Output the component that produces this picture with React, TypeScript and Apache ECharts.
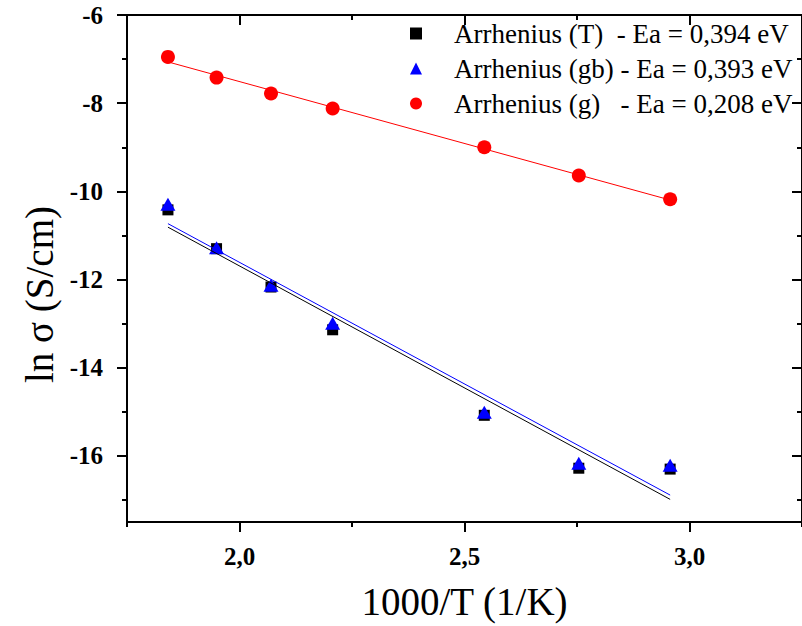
import React, { useEffect, useRef } from "react";
import * as echarts from "echarts";

const invT = [1.841, 1.949, 2.07, 2.207, 2.544, 2.754, 2.957];
const lnSigmaT = [-10.42, -11.3, -12.17, -13.14, -15.08, -16.28, -16.3];
const lnSigmaGb = [-10.29, -11.28, -12.13, -12.99, -15.01, -16.17, -16.21];
const lnSigmaG = [-6.95, -7.42, -7.78, -8.12, -9.0, -9.64, -10.18];

const nameT = "Arrhenius (T)  - Ea = 0,394 eV";
const nameGb = "Arrhenius (gb) - Ea = 0,393 eV";
const nameG = "Arrhenius (g)   - Ea = 0,208 eV";

const xMajorTicks = [2.0, 2.5, 3.0];
const xMinorTicks = [1.75, 2.25, 2.75, 3.25];
const yMajorTicks = [-16, -14, -12, -10, -8, -6];
const yMinorTicks = [-17, -15, -13, -11, -9, -7];

const X_MIN = 1.75;
const X_MAX = 3.25;
const Y_MIN = -17.5;
const Y_MAX = -6;

const FONT = "Liberation Serif";

function linearFit(xs: number[], ys: number[]): [number, number][] {
  const n = xs.length;
  const mx = xs.reduce((a, b) => a + b, 0) / n;
  const my = ys.reduce((a, b) => a + b, 0) / n;
  let sxy = 0;
  let sxx = 0;
  for (let i = 0; i < n; i++) {
    sxy += (xs[i] - mx) * (ys[i] - my);
    sxx += (xs[i] - mx) * (xs[i] - mx);
  }
  const b = sxy / sxx;
  const a = my - b * mx;
  const x0 = Math.min(...xs);
  const x1 = Math.max(...xs);
  return [
    [x0, a + b * x0],
    [x1, a + b * x1],
  ];
}

const pairs = (xs: number[], ys: number[]) => xs.map((x, i) => [x, ys[i]]);

export default function App() {
  const ref = useRef<HTMLDivElement>(null);

  useEffect(() => {
    if (!ref.current) return;
    const chart = echarts.init(ref.current, undefined, { renderer: "svg" });

    const axisLine = { lineStyle: { color: "#000", width: 2 } };
    const tickStyle = { color: "#000", width: 2 };

    const xAxes: any[] = [
      {
        type: "value",
        position: "bottom",
        min: X_MIN,
        max: X_MAX,
        axisLine: { show: true, onZero: false, ...axisLine },
        axisTick: { show: true, customValues: xMajorTicks, length: 10, inside: false, lineStyle: tickStyle },
        axisLabel: {
          show: true,
          customValues: xMajorTicks,
          margin: 22,
          color: "#000",
          fontFamily: FONT,
          fontWeight: "bold",
          fontSize: 25,
          formatter: (v: number) => v.toFixed(1).replace(".", ","),
        },
        splitLine: { show: false },
        name: "1000/T (1/K)",
        nameLocation: "middle",
        nameGap: 60,
        nameTextStyle: { color: "#000", fontFamily: FONT, fontSize: 39 },
      },
      {
        type: "value",
        position: "bottom",
        min: X_MIN,
        max: X_MAX,
        axisLine: { show: false, onZero: false },
        axisTick: { show: true, customValues: xMinorTicks, length: 5, inside: false, lineStyle: tickStyle },
        axisLabel: { show: false },
        splitLine: { show: false },
      },
      {
        type: "value",
        position: "top",
        min: X_MIN,
        max: X_MAX,
        axisLine: { show: true, onZero: false, ...axisLine },
        axisTick: { show: true, customValues: xMajorTicks, length: 10, inside: true, lineStyle: tickStyle },
        axisLabel: { show: false },
        splitLine: { show: false },
      },
      {
        type: "value",
        position: "top",
        min: X_MIN,
        max: X_MAX,
        axisLine: { show: false, onZero: false },
        axisTick: { show: true, customValues: xMinorTicks, length: 5, inside: true, lineStyle: tickStyle },
        axisLabel: { show: false },
        splitLine: { show: false },
      },
    ];

    const yAxes: any[] = [
      {
        type: "value",
        position: "left",
        min: Y_MIN,
        max: Y_MAX,
        axisLine: { show: true, onZero: false, ...axisLine },
        axisTick: { show: true, customValues: yMajorTicks, length: 10, inside: false, lineStyle: tickStyle },
        axisLabel: {
          show: true,
          customValues: yMajorTicks,
          margin: 24,
          color: "#000",
          fontFamily: FONT,
          fontWeight: "bold",
          fontSize: 25,
          formatter: (v: number) => String(Math.round(v)),
        },
        splitLine: { show: false },
        name: "ln σ (S/cm)",
        nameLocation: "middle",
        nameGap: 62,
        nameTextStyle: { color: "#000", fontFamily: FONT, fontSize: 39, padding: [0, 52, 0, 0] },
      },
      {
        type: "value",
        position: "left",
        min: Y_MIN,
        max: Y_MAX,
        axisLine: { show: false, onZero: false },
        axisTick: { show: true, customValues: yMinorTicks, length: 5, inside: false, lineStyle: tickStyle },
        axisLabel: { show: false },
        splitLine: { show: false },
      },
      {
        type: "value",
        position: "right",
        min: Y_MIN,
        max: Y_MAX,
        axisLine: { show: true, onZero: false, ...axisLine },
        axisTick: { show: true, customValues: yMajorTicks, length: 10, inside: true, lineStyle: tickStyle },
        axisLabel: { show: false },
        splitLine: { show: false },
      },
      {
        type: "value",
        position: "right",
        min: Y_MIN,
        max: Y_MAX,
        axisLine: { show: false, onZero: false },
        axisTick: { show: true, customValues: yMinorTicks, length: 5, inside: true, lineStyle: tickStyle },
        axisLabel: { show: false },
        splitLine: { show: false },
      },
    ];

    const fitLine = (name: string, ys: number[], color: string) => ({
      name,
      type: "line",
      data: linearFit(invT, ys),
      showSymbol: false,
      symbol: "none",
      lineStyle: { color, width: 1, opacity: 1 },
      z: 3,
      silent: true,
    });

    chart.setOption({
      animation: false,
      backgroundColor: "#fff",
      grid: { left: 127, top: 15, width: 678.5, height: 508.5, containLabel: false },
      xAxis: xAxes,
      yAxis: yAxes,
      legend: {
        orient: "vertical",
        left: 405,
        top: 15,
        itemWidth: 12,
        itemHeight: 12,
        itemGap: 8,
        data: [
          { name: nameT, icon: "rect" },
          { name: nameGb, icon: "triangle" },
          { name: nameG, icon: "circle" },
        ],
        itemStyle: { opacity: 1 },
        textStyle: { color: "#000", fontFamily: FONT, fontSize: 27, padding: [0, 0, 0, 27] },
        selectedMode: false,
      },
      series: [
        {
          name: nameT,
          type: "scatter",
          data: pairs(invT, lnSigmaT),
          symbol: "rect",
          symbolSize: 11,
          itemStyle: { color: "#000", opacity: 1 },
          z: 2,
        },
        {
          name: nameGb,
          type: "scatter",
          data: pairs(invT, lnSigmaGb),
          symbol: "triangle",
          symbolSize: [15, 13],
          itemStyle: { color: "#0000ff", opacity: 1 },
          z: 2,
        },
        {
          name: nameG,
          type: "scatter",
          data: pairs(invT, lnSigmaG),
          symbol: "circle",
          symbolSize: 14,
          itemStyle: { color: "#ff0000", opacity: 1 },
          z: 2,
        },
        fitLine("fit T", lnSigmaT, "#000"),
        fitLine("fit gb", lnSigmaGb, "#0000ff"),
        fitLine("fit g", lnSigmaG, "#ff0000"),
      ],
    });

    return () => chart.dispose();
  }, []);

  return (
    <div
      ref={ref}
      style={{ position: "fixed", left: 0, top: 0, width: 802, height: 626, background: "#fff" }}
    />
  );
}
